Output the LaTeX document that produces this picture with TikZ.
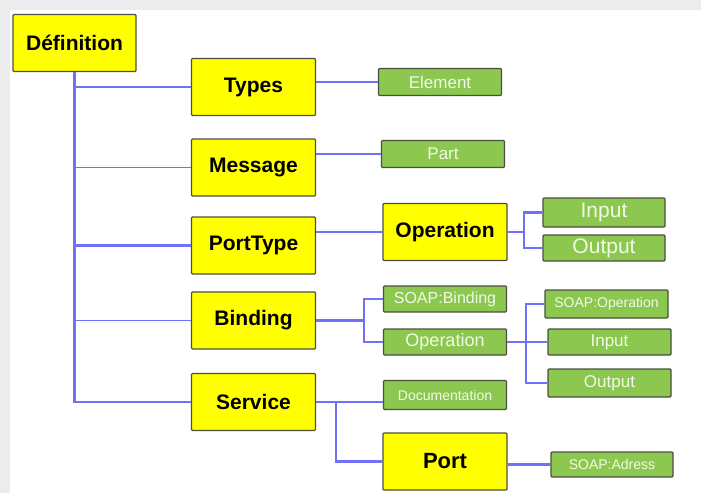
\documentclass[tikz,border=0pt]{standalone}
\usepackage{fontspec}
\setmainfont{Liberation Sans}
\definecolor{boxyellow}{RGB}{255,255,0}
\definecolor{boxgreen}{RGB}{140,200,80}
\definecolor{boxedge}{RGB}{75,80,65}
\definecolor{linkblue}{RGB}{112,112,250}
\definecolor{framegray}{RGB}{236,236,236}
\definecolor{greentext}{RGB}{240,250,230}
\newcommand{\fs}[1]{\fontsize{#1}{#1}\selectfont}
\tikzset{
  ybox/.style={draw=boxedge, line width=1.2pt, fill=boxyellow, rounded corners=1pt,
    minimum width=124pt, minimum height=57pt, inner sep=0pt, text=black,
    font=\fs{21}\bfseries},
  gbox/.style={draw=boxedge, line width=1.2pt, fill=boxgreen, rounded corners=1pt,
    minimum width=123pt, minimum height=27pt, inner sep=0pt, text=greentext},
  link/.style={draw=linkblue, line width=2.3pt},
  thinlink/.style={draw=linkblue, line width=1.2pt},
}
\begin{document}
\begin{tikzpicture}[x=1pt,y=-1pt]
\useasboundingbox (0,0) rectangle (701,493);
% page frame
\fill[framegray] (0,0) rectangle (701,493);
\fill[white] (10,10) rectangle (701,493);

% first level
\node[ybox, minimum width=123pt] (def) at (74.5,43) {Définition};
\node[ybox] (types)    at (253.5,87)    {Types};
\node[ybox] (message)  at (253.5,167.5) {Message};
\node[ybox] (porttype) at (253.5,245.5) {PortType};
\node[ybox] (binding)  at (253.5,320.5) {Binding};
\node[ybox] (service)  at (253.5,402)   {Service};

% second level
\node[gbox] (element) at (440,82)  {\fs{17}Element};
\node[gbox] (part)    at (443,154) {\fs{17}Part};
\node[ybox] (op1)     at (445,232) {Operation};
\node[gbox, minimum height=26pt] (soapb) at (445,299) {\fs{16}SOAP:Binding};
\node[gbox, minimum height=26pt] (op2)   at (445,342) {\fs{18}Operation};
\node[gbox, minimum height=29pt] (doc)   at (445,395) {\fs{14}Documentation};
\node[ybox, font=\fs{22}\bfseries] (port) at (445,461.5) {Port};

% third level
\node[gbox, minimum width=122pt, minimum height=29pt] (in1)  at (604,212.5) {\fs{21}Input};
\node[gbox, minimum width=122pt, minimum height=26pt] (out1) at (604,248)   {\fs{21}Output};
\node[gbox, minimum height=28pt] (soapop) at (606.5,304) {\fs{14}SOAP:Operation};
\node[gbox, minimum height=26pt] (in2)    at (609.5,342) {\fs{17}Input};
\node[gbox, minimum height=28pt] (out2)   at (609.5,383) {\fs{17}Output};
\node[gbox, minimum width=122pt, minimum height=25pt] (soapa) at (612,464.5) {\fs{14}SOAP:Adress};

% fork points
\coordinate (f1) at (524,232);
\coordinate (fb) at (364,320.5);
\coordinate (fo) at (526,342);
\coordinate (fs) at (336,402);

% trunk from the root
\draw[link] (def.south) |- (service.west);
\draw[link] (def.south |- types.west) -- (types.west);
\draw[thinlink] (def.south |- message.west) -- (message.west);
\draw[link] (def.south |- porttype.west) -- (porttype.west);
\draw[thinlink] (def.south |- binding.west) -- (binding.west);

% Types, Message, PortType
\draw[link] (types.east |- element.west) -- (element.west);
\draw[link] (message.east |- part.west) -- (part.west);
\draw[link] (porttype.east |- op1.west) -- (op1.west);
\draw[link] (op1.east) -- (f1) |- (in1.west);
\draw[link] (f1) |- (out1.west);

% Binding
\draw[link] (binding.east) -- (fb) |- (soapb.west);
\draw[link] (fb) |- (op2.west);
\draw[link] (op2.east) -- (fo) |- (soapop.west);
\draw[link] (fo) -- (in2.west);
\draw[link] (fo) |- (out2.west);

% Service
\draw[link] (service.east) -- (fs) -- (fs -| doc.west);
\draw[link] (fs) |- (port.west);
\draw[link] (port.east |- soapa.west) -- (soapa.west);
\end{tikzpicture}
\end{document}
